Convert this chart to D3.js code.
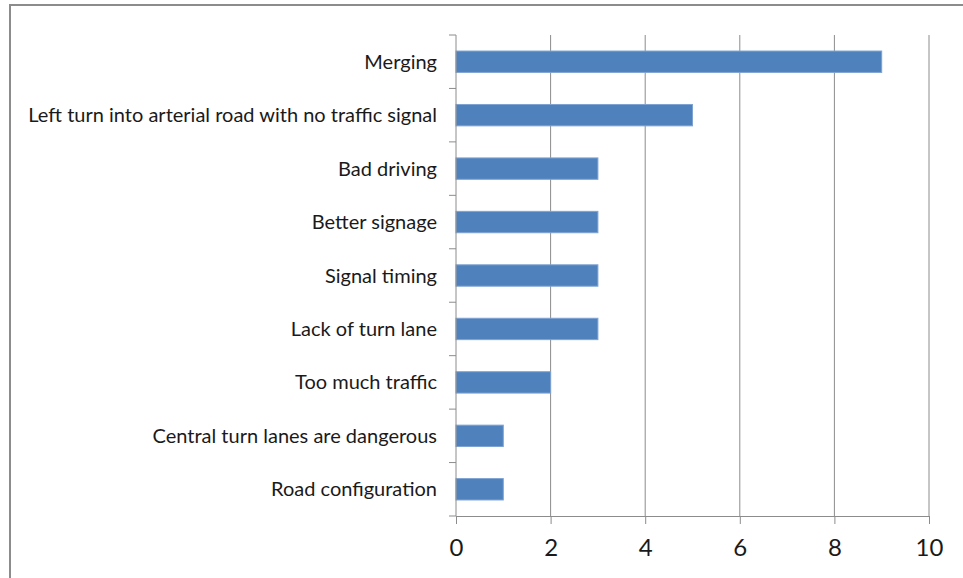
<!DOCTYPE html>
<html>
<head>
<meta charset="utf-8">
<script src="https://cdn.jsdelivr.net/npm/d3@7"></script>
<style>
  body { margin: 0; background: #fff; }
  svg text { font-family: Lato, "Open Sans", sans-serif; fill: #1a1a1a; }
</style>
</head>
<body>
<svg id="chart" width="963" height="578"></svg>
<script>
var categories = [
  "Merging",
  "Left turn into arterial road with no traffic signal",
  "Bad driving",
  "Better signage",
  "Signal timing",
  "Lack of turn lane",
  "Too much traffic",
  "Central turn lanes are dangerous",
  "Road configuration"
];
var counts = [9, 5, 3, 3, 3, 3, 2, 1, 1];
var xTicks = [0, 2, 4, 6, 8, 10];

var svg = d3.select("#chart");
var plotL = 456, plotR = 929, plotT = 35, plotB = 516;

// chart border
svg.append("rect")
  .attr("x", 10).attr("y", 5)
  .attr("width", 1000).attr("height", 600)
  .attr("fill", "none")
  .attr("stroke", "#8c8c8c")
  .attr("stroke-width", 2);

var x = d3.scaleLinear().domain([0, 10]).range([plotL, plotR]);
var y = d3.scaleBand().domain(categories).range([plotT, plotB])
  .paddingInner(0.6).paddingOuter(0.3);

// gridlines
svg.append("g").selectAll("line")
  .data(xTicks.slice(1))
  .enter().append("line")
  .attr("x1", function(d){ return x(d); })
  .attr("x2", function(d){ return x(d); })
  .attr("y1", plotT).attr("y2", plotB)
  .attr("stroke", "#8c8c8c").attr("stroke-width", 1);

// bars
svg.append("g").selectAll("rect")
  .data(counts)
  .enter().append("rect")
  .attr("x", x(0))
  .attr("y", function(d, i){ return y(categories[i]); })
  .attr("width", function(d){ return x(d) - x(0); })
  .attr("height", y.bandwidth())
  .attr("fill", "#4f81bd")
  .attr("stroke", "#7ea3d3")
  .attr("stroke-width", 1);

// y axis: ticks at category boundaries
var yAxis = svg.append("g");
yAxis.append("line")
  .attr("x1", plotL).attr("x2", plotL)
  .attr("y1", plotT).attr("y2", plotB)
  .attr("stroke", "#8c8c8c");
var bounds = d3.range(categories.length + 1).map(function(i){ return plotT + i * y.step(); });
yAxis.selectAll("line.tick")
  .data(bounds)
  .enter().append("line")
  .attr("class", "tick")
  .attr("x1", plotL - 7).attr("x2", plotL)
  .attr("y1", function(d){ return d; })
  .attr("y2", function(d){ return d; })
  .attr("stroke", "#8c8c8c");
yAxis.selectAll("text")
  .data(categories)
  .enter().append("text")
  .attr("x", plotL - 19)
  .attr("y", function(d){ return y(d) + y.bandwidth() / 2; })
  .attr("dy", "0.35em")
  .attr("text-anchor", "end")
  .attr("font-size", 20)
  .text(function(d){ return d; });

// x axis
var xAxis = d3.axisBottom(x).tickValues(xTicks).tickSize(8).tickPadding(15);
var gx = svg.append("g")
  .attr("transform", "translate(0," + plotB + ")")
  .call(xAxis);
gx.select(".domain").attr("stroke", "#8c8c8c");
gx.selectAll(".tick line").attr("stroke", "#8c8c8c");
gx.selectAll("text").attr("font-size", 24).attr("font-family", "Lato, sans-serif").attr("fill", "#1a1a1a");
</script>
</body>
</html>
